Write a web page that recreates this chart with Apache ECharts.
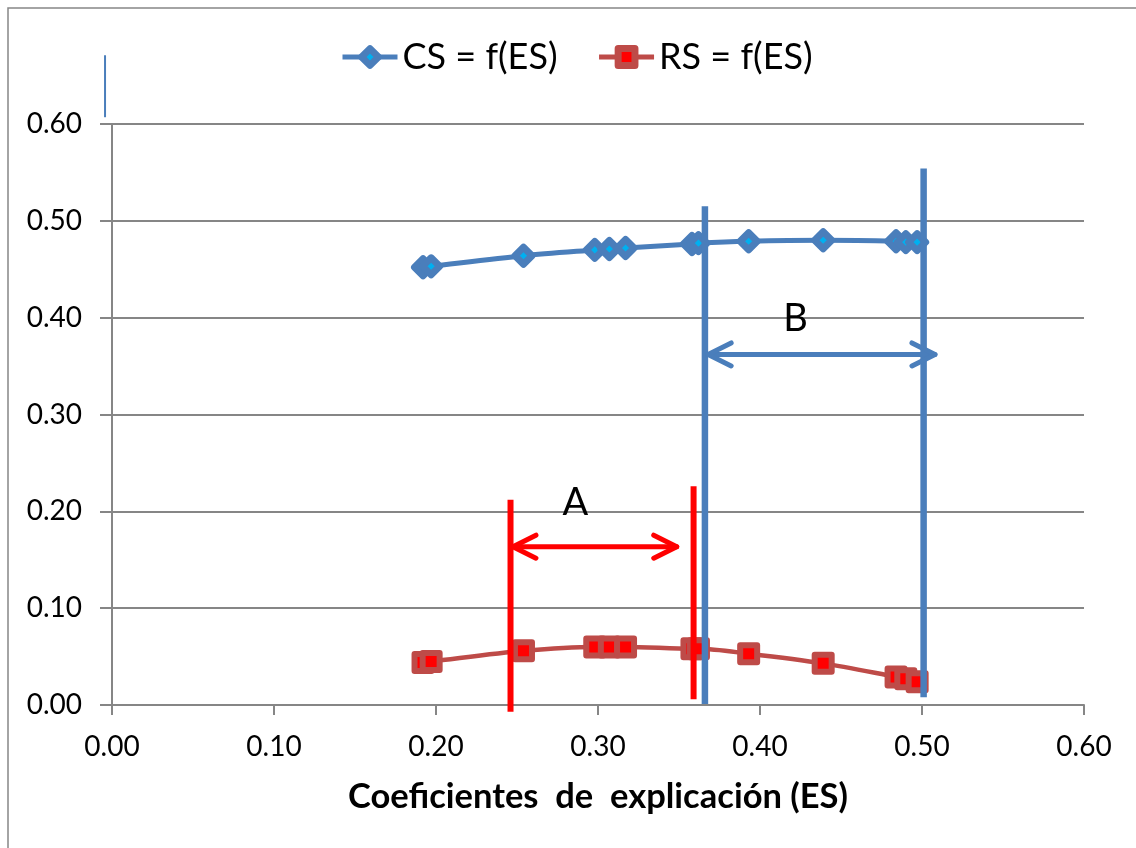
<!DOCTYPE html>
<html>
<head>
<meta charset="utf-8">
<script src="https://cdn.jsdelivr.net/npm/echarts@6/dist/echarts.min.js"></script>
<style>
  html, body { margin: 0; padding: 0; background: #ffffff; }
  #chart { width: 1136px; height: 848px; }
</style>
</head>
<body>
<div id="chart"></div>
<script>
// Explanation coefficients (ES) shared by both curves
const es = [0.192, 0.197, 0.254, 0.298, 0.307, 0.317, 0.358, 0.362, 0.393, 0.439, 0.484, 0.490, 0.497];
// CS as a function of ES
const cs = [0.452, 0.453, 0.464, 0.470, 0.471, 0.472, 0.476, 0.477, 0.479, 0.480, 0.479, 0.478, 0.478];
// RS as a function of ES
const rs = [0.044, 0.045, 0.056, 0.060, 0.060, 0.060, 0.058, 0.058, 0.053, 0.043, 0.029, 0.027, 0.024];
const seriesNames = ['CS = f(ES)', 'RS = f(ES)'];
const xTitle = 'Coeficientes  de  explicación (ES)';

// Interval A: vertical guides [ES, y from, y to], arrow [ES from, ES to, y], label [text, ES, y]
const guideA = [[0.246, -0.007, 0.212], [0.359, 0.006, 0.226]];
const arrowA = [0.2475, 0.3486, 0.1635];
const labelA = ['A', 0.286, 0.209];
// Interval B
const guideB = [[0.366, 0.001, 0.515], [0.501, 0.008, 0.554]];
const arrowB = [0.368, 0.508, 0.362];
const labelB = ['B', 0.422, 0.399];
// short mark above the value axis
const topGuide = [[-0.0043, 0.607, 0.671]];

const FONT = 'Lato, "Noto Sans", sans-serif';
const GRID_GRAY = '#868686';
const BLUE = '#4a7ebb';
const RED_LINE = '#be4b48';

function guideSeries(lines, color, width) {
  return {
    type: 'custom', silent: true, z: 5, clip: false,
    data: lines,
    encode: { x: 0, y: [1, 2] },
    renderItem: (params, api) => {
      const a = api.coord([api.value(0), api.value(1)]);
      const b = api.coord([api.value(0), api.value(2)]);
      return {
        type: 'line',
        shape: { x1: a[0], y1: a[1], x2: b[0], y2: b[1] },
        style: { stroke: color, lineWidth: width }
      };
    }
  };
}

function arrowSeries(arrow, color) {
  return {
    type: 'custom', silent: true, z: 6, clip: false,
    data: [arrow],
    encode: { x: [0, 1], y: 2 },
    renderItem: (params, api) => {
      const p0 = api.coord([api.value(0), api.value(2)]);
      const p1 = api.coord([api.value(1), api.value(2)]);
      const hx = 23, hy = 11.5;
      const st = { stroke: color, lineWidth: 5, lineCap: 'round', lineJoin: 'round', fill: null };
      return {
        type: 'group',
        children: [
          { type: 'line', shape: { x1: p0[0], y1: p0[1], x2: p1[0], y2: p1[1] }, style: st },
          { type: 'polyline', shape: { points: [[p0[0] + hx, p0[1] - hy], [p0[0], p0[1]], [p0[0] + hx, p0[1] + hy]] }, style: st },
          { type: 'polyline', shape: { points: [[p1[0] - hx, p1[1] - hy], [p1[0], p1[1]], [p1[0] - hx, p1[1] + hy]] }, style: st }
        ]
      };
    }
  };
}

function labelSeries(label) {
  return {
    type: 'custom', silent: true, z: 6, clip: false,
    data: [[label[1], label[2]]],
    encode: { x: 0, y: 1 },
    renderItem: (params, api) => {
      const p = api.coord([api.value(0), api.value(1)]);
      return {
        type: 'text',
        style: {
          text: label[0], x: p[0], y: p[1],
          fill: '#000000', font: '38px ' + FONT,
          align: 'center', verticalAlign: 'middle'
        }
      };
    }
  };
}

const chart = echarts.init(document.getElementById('chart'), null, { renderer: 'canvas' });

chart.setOption({
  animation: false,
  backgroundColor: '#ffffff',
  textStyle: { fontFamily: FONT },
  graphic: [{
    type: 'rect', silent: true, z: -1,
    shape: { x: 8, y: 8, width: 1300, height: 1000 },
    style: { fill: null, stroke: GRID_GRAY, lineWidth: 1.5 }
  }],
  legend: {
    data: seriesNames,
    left: 340, top: 39, padding: 0,
    itemWidth: 55, itemHeight: 21, itemGap: 39,
    textStyle: { fontSize: 36, color: '#000000', fontFamily: FONT, padding: [0, 0, 0, 0] },
    itemStyle: { borderWidth: 7 },
    lineStyle: { width: 5 }
  },
  grid: { left: 112, right: 52, top: 124, bottom: 143, containLabel: false },
  xAxis: {
    type: 'value', min: 0, max: 0.6, interval: 0.1,
    name: xTitle, nameLocation: 'middle', nameGap: 74,
    nameTextStyle: { fontSize: 34.5, fontWeight: 'bold', color: '#000000', fontFamily: FONT },
    axisLine: { show: true, onZero: false, lineStyle: { color: GRID_GRAY, width: 2 } },
    axisTick: { show: true, length: 10, lineStyle: { color: GRID_GRAY, width: 2 } },
    axisLabel: { fontSize: 28, color: '#000000', margin: 28, formatter: v => v.toFixed(2) },
    splitLine: { show: false }
  },
  yAxis: {
    type: 'value', min: 0, max: 0.6, interval: 0.1,
    axisLine: { show: true, lineStyle: { color: GRID_GRAY, width: 2 } },
    axisTick: { show: true, length: 12, lineStyle: { color: GRID_GRAY, width: 2 } },
    axisLabel: { fontSize: 28, color: '#000000', margin: 30, formatter: v => v.toFixed(2) },
    splitLine: { show: true, lineStyle: { color: GRID_GRAY, width: 2 } }
  },
  series: [
    {
      name: seriesNames[0], type: 'line', z: 3,
      data: es.map((x, i) => [x, cs[i]]),
      smooth: 0.3,
      symbol: 'diamond', symbolSize: 17,
      lineStyle: { color: BLUE, width: 5 },
      itemStyle: { color: '#00b0f0', borderColor: BLUE, borderWidth: 7, borderJoin: 'round' }
    },
    {
      name: seriesNames[1], type: 'line', z: 3,
      data: es.map((x, i) => [x, rs[i]]),
      smooth: 0.3,
      symbol: 'rect', symbolSize: 17,
      lineStyle: { color: RED_LINE, width: 4.5 },
      itemStyle: { color: '#ff0000', borderColor: RED_LINE, borderWidth: 6, borderJoin: 'round' }
    },
    guideSeries(guideA, '#ff0000', 6),
    guideSeries(guideB, BLUE, 6.5),
    guideSeries(topGuide, BLUE, 2),
    arrowSeries(arrowA, '#ff0000'),
    arrowSeries(arrowB, BLUE),
    labelSeries(labelA),
    labelSeries(labelB)
  ]
});
</script>
</body>
</html>
